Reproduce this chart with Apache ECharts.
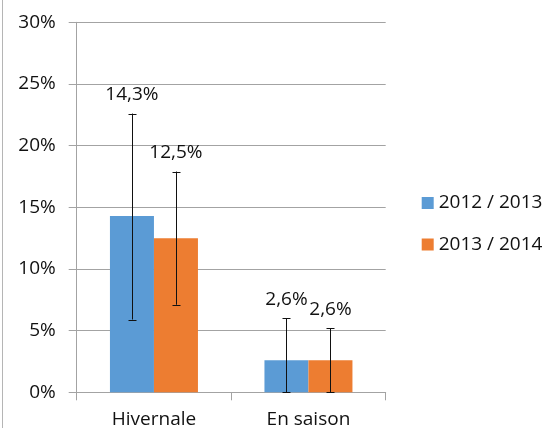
<!DOCTYPE html>
<html>
<head>
<meta charset="utf-8">
<script src="https://cdn.jsdelivr.net/npm/echarts@6/dist/echarts.min.js"></script>
<style>
html,body{margin:0;padding:0;background:#fff;}
#c{width:550px;height:428px;}
</style>
</head>
<body>
<div id="c"></div>
<script>
const categories = ['Hivernale', 'En saison'];
const seriesNames = ['2012 / 2013', '2013 / 2014'];
const values2012 = [14.3, 2.6];
const values2013 = [12.5, 2.6];
const errLow2012 = [5.9, 0];
const errHigh2012 = [22.6, 6.0];
const errLow2013 = [7.1, 0];
const errHigh2013 = [17.9, 5.2];
const yTickLabels = ['0%', '5%', '10%', '15%', '20%', '25%', '30%'];

const FONT = 'Open Sans';
const FS = 19;
const TXT = '#111';
const GRID = '#a3a3a3';
const BAR_W = 44;

function fmt(v) { return v.toFixed(1).replace('.', ',') + '%'; }

function errSeries(name, values, lows, highs, side) {
  const data = categories.map((c, i) => [i, lows[i], highs[i], values[i]]);
  return {
    type: 'custom',
    name: name + ' err',
    z: 10,
    silent: true,
    data: data,
    encode: { x: 0, y: [1, 2] },
    renderItem: function (params, api) {
      const ci = api.value(0);
      const off = side * BAR_W / 2;
      const x = api.coord([ci, 0])[0] + off;
      const yl = api.coord([ci, api.value(1)])[1];
      const yh = api.coord([ci, api.value(2)])[1];
      const cap = 4;
      const ls = { stroke: '#111', lineWidth: 1 };
      const xr = Math.round(x) + 0.5;
      return {
        type: 'group',
        children: [
          { type: 'line', shape: { x1: xr, y1: yl, x2: xr, y2: yh }, style: ls },
          { type: 'line', shape: { x1: xr - cap, y1: Math.round(yh) + 0.5, x2: xr + cap, y2: Math.round(yh) + 0.5 }, style: ls },
          { type: 'line', shape: { x1: xr - cap, y1: Math.round(yl) + 0.5, x2: xr + cap, y2: Math.round(yl) + 0.5 }, style: ls },
          { type: 'text', style: { text: fmt(api.value(3)), x: x, y: yh - 19, align: 'center', verticalAlign: 'middle', fontFamily: FONT, fontSize: FS, fill: TXT } }
        ]
      };
    }
  };
}

const chart = echarts.init(document.getElementById('c'), null, { renderer: 'canvas' });
chart.setOption({
  animation: false,
  backgroundColor: '#fff',
  textStyle: { fontFamily: FONT },
  grid: { left: 76.7, right: 164.3, top: 22.3, bottom: 35.7, containLabel: false, outerBoundsMode: 'none' },
  legend: {
    data: seriesNames,
    orient: 'vertical',
    left: 421.7,
    top: 193.5,
    itemWidth: 12,
    itemHeight: 12,
    itemGap: 22.5,
    icon: 'rect',
    textStyle: { fontFamily: FONT, fontSize: FS, color: TXT, padding: [0, 0, 0, 0] },
    padding: 0
  },
  graphic: [
    { type: 'line', shape: { x1: 2.5, y1: 0, x2: 2.5, y2: 428 }, style: { stroke: '#b5b5b5', lineWidth: 1 } }
  ],
  xAxis: {
    type: 'category',
    data: categories,
    axisLine: { lineStyle: { color: GRID } },
    axisTick: { show: true, length: 8, interval: 0, lineStyle: { color: GRID } },
    axisLabel: { fontFamily: FONT, fontSize: FS, color: TXT, margin: 18 }
  },
  yAxis: {
    type: 'value',
    min: 0,
    max: 30,
    interval: 5,
    axisLine: { show: true, lineStyle: { color: GRID } },
    axisTick: { show: true, length: 8, lineStyle: { color: GRID } },
    splitLine: { lineStyle: { color: GRID } },
    axisLabel: {
      fontFamily: FONT, fontSize: FS, color: TXT, margin: 21,
      formatter: function (v) { return yTickLabels[Math.round(v / 5)]; }
    }
  },
  series: [
    { type: 'bar', name: seriesNames[0], data: values2012, barWidth: BAR_W, barGap: '0%', itemStyle: { color: '#5B9BD5' } },
    { type: 'bar', name: seriesNames[1], data: values2013, barWidth: BAR_W, barGap: '0%', itemStyle: { color: '#ED7D31' } },
    errSeries(seriesNames[0], values2012, errLow2012, errHigh2012, -1),
    errSeries(seriesNames[1], values2013, errLow2013, errHigh2013, 1)
  ]
});
</script>
</body>
</html>
